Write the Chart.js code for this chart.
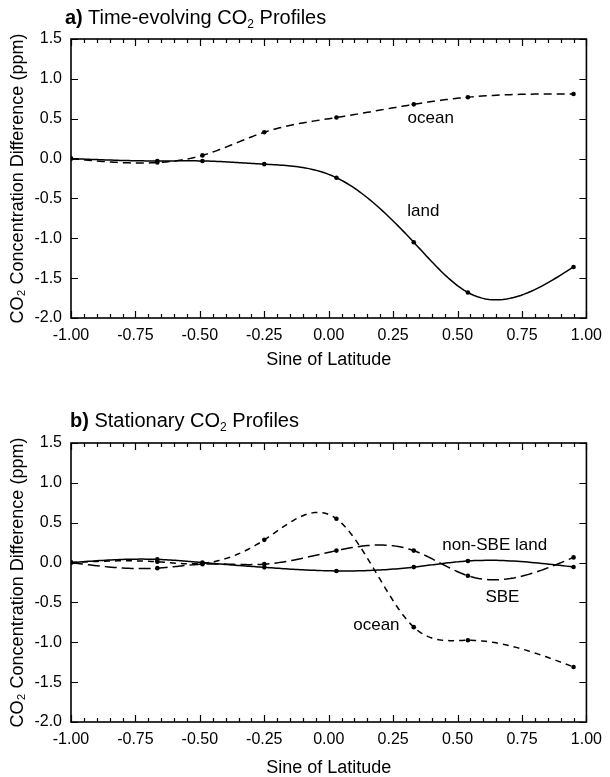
<!DOCTYPE html>
<html>
<head>
<meta charset="utf-8">
<title>CO2 latitudinal profiles</title>
<script src="https://cdn.jsdelivr.net/npm/chart.js@4.4.1/dist/chart.umd.min.js"></script>
<style>
  body { margin: 0; background: #fff; font-family: "Liberation Sans", Arial, sans-serif; }
  .panel { position: absolute; left: 0; width: 610px; }
  .title { position: absolute; font-size: 20px; line-height: 1; color: #000; white-space: nowrap; }
  .title sub { font-size: 12px; vertical-align: -4px; line-height: 1; }
</style>
</head>
<body>
<div class="panel" style="top:0;height:390px">
  <div class="title" style="left:65px;top:7px"><b>a)</b> Time-evolving CO<sub>2</sub> Profiles</div>
  <canvas id="chartA" width="610" height="390"></canvas>
</div>
<div class="panel" style="top:390px;height:387px">
  <div class="title" style="left:70px;top:20px"><b>b)</b> Stationary CO<sub>2</sub> Profiles</div>
  <canvas id="chartB" width="610" height="387"></canvas>
</div>
<script>
// station positions (sine of latitude)
const latitudes = [-1.0, -0.665, -0.49, -0.25, 0.03, 0.33, 0.54, 0.95];

// a) time-evolving profiles (ppm)
const timeOcean = [0.0, -0.05, 0.04, 0.33, 0.515, 0.68, 0.77, 0.81];
const timeLand  = [0.0, -0.03, -0.03, -0.07, -0.24, -1.05, -1.68, -1.36];

// b) stationary profiles (ppm)
const statOcean  = [0.0, 0.01, -0.01, 0.285, 0.55, -0.81, -0.975, -1.31];
const statSBE    = [0.0, -0.07, -0.02, -0.02, 0.15, 0.15, -0.165, 0.065];
const statNonSBE = [0.0, 0.04, 0.0, -0.06, -0.105, -0.057, 0.02, -0.055];

// axis ticks
const xTickValues = [-1.0, -0.75, -0.5, -0.25, 0.0, 0.25, 0.5, 0.75, 1.0];
const yTickValues = [-2.0, -1.5, -1.0, -0.5, 0.0, 0.5, 1.0, 1.5];
const xMinorPerMajor = 5;

const FONT = '"Liberation Sans", Arial, sans-serif';

// natural cubic spline through pixel points, sampled along each segment
function splinePath(ctx, pts) {
  const n = pts.length;
  const h = [], M = new Array(n).fill(0);
  for (let i = 0; i < n - 1; i++) h.push(pts[i + 1].x - pts[i].x);
  const a = [], b = [], c = [], d = [];
  for (let i = 1; i < n - 1; i++) {
    a.push(h[i - 1]);
    b.push(2 * (h[i - 1] + h[i]));
    c.push(h[i]);
    d.push(6 * ((pts[i + 1].y - pts[i].y) / h[i] - (pts[i].y - pts[i - 1].y) / h[i - 1]));
  }
  const m = b.length;
  for (let i = 1; i < m; i++) {
    const w = a[i] / b[i - 1];
    b[i] -= w * c[i - 1];
    d[i] -= w * d[i - 1];
  }
  for (let i = m - 1; i >= 0; i--) {
    M[i + 1] = (d[i] - (i < m - 1 ? c[i] * M[i + 2] : 0)) / b[i];
  }
  ctx.moveTo(pts[0].x, pts[0].y);
  for (let i = 0; i < n - 1; i++) {
    const hi = h[i];
    const k3 = (M[i + 1] - M[i]) / (6 * hi);
    const k2 = M[i] / 2;
    const k1 = (pts[i + 1].y - pts[i].y) / hi - hi * (2 * M[i] + M[i + 1]) / 6;
    const steps = 30;
    for (let s = 1; s <= steps; s++) {
      const t = hi * s / steps;
      ctx.lineTo(pts[i].x + t, pts[i].y + k1 * t + k2 * t * t + k3 * t * t * t);
    }
  }
}

const splineLines = {
  id: 'splineLines',
  beforeDatasetsDraw(chart) {
    const ctx = chart.ctx;
    chart.data.datasets.forEach((ds, i) => {
      const pts = chart.getDatasetMeta(i).data.map(p => ({ x: p.x, y: p.y }));
      ctx.save();
      ctx.beginPath();
      splinePath(ctx, pts);
      ctx.strokeStyle = '#000';
      ctx.lineWidth = ds.curveWidth;
      ctx.setLineDash(ds.curveDash);
      ctx.stroke();
      ctx.restore();
    });
  }
};

const frameTicks = {
  id: 'frameTicks',
  afterDatasetsDraw(chart) {
    const { ctx, chartArea: area, scales: { x, y } } = chart;
    ctx.save();
    ctx.strokeStyle = '#000';
    ctx.lineWidth = 1.6;
    ctx.strokeRect(area.left, area.top, area.right - area.left, area.bottom - area.top);
    ctx.lineWidth = 1.2;
    ctx.beginPath();
    for (let i = 0; i < xTickValues.length; i++) {
      const px = Math.round(x.getPixelForValue(xTickValues[i])) + 0.5;
      ctx.moveTo(px, area.bottom); ctx.lineTo(px, area.bottom - 7);
      ctx.moveTo(px, area.top); ctx.lineTo(px, area.top + 7);
      if (i < xTickValues.length - 1) {
        const step = (xTickValues[i + 1] - xTickValues[i]) / xMinorPerMajor;
        for (let k = 1; k < xMinorPerMajor; k++) {
          const mx = Math.round(x.getPixelForValue(xTickValues[i] + k * step)) + 0.5;
          ctx.moveTo(mx, area.bottom); ctx.lineTo(mx, area.bottom - 4);
          ctx.moveTo(mx, area.top); ctx.lineTo(mx, area.top + 4);
        }
      }
    }
    yTickValues.forEach(v => {
      const py = Math.round(y.getPixelForValue(v)) + 0.5;
      ctx.moveTo(area.left, py); ctx.lineTo(area.left + 7, py);
      ctx.moveTo(area.right, py); ctx.lineTo(area.right - 7, py);
    });
    ctx.stroke();
    ctx.restore();
  }
};

const curveLabels = {
  id: 'curveLabels',
  afterDatasetsDraw(chart, args, opts) {
    const { ctx, scales: { x, y } } = chart;
    ctx.save();
    ctx.fillStyle = '#000';
    ctx.font = '17px ' + FONT;
    ctx.textAlign = 'center';
    ctx.textBaseline = 'middle';
    (opts.items || []).forEach(l => {
      ctx.fillText(l.text, x.getPixelForValue(l.x), y.getPixelForValue(l.y));
    });
    ctx.restore();
  }
};

function series(values, dash) {
  return {
    data: latitudes.map((lat, i) => ({ x: lat, y: values[i] })),
    showLine: false,
    pointRadius: 2.3,
    pointBackgroundColor: '#000',
    pointBorderWidth: 0,
    curveDash: dash,
    curveWidth: 1.5
  };
}

function makeChart(id, datasets, labels, box) {
  return new Chart(document.getElementById(id), {
    type: 'scatter',
    data: { datasets },
    plugins: [splineLines, frameTicks, curveLabels],
    options: {
      responsive: false,
      animation: false,
      devicePixelRatio: 1,
      layout: { padding: { left: 0, top: box.top, right: 22, bottom: 0 } },
      plugins: {
        legend: { display: false },
        tooltip: { enabled: false },
        curveLabels: { items: labels }
      },
      scales: {
        x: {
          type: 'linear', min: -1, max: 1,
          grid: { display: false, drawTicks: false },
          border: { display: false },
          afterBuildTicks: s => { s.ticks = xTickValues.map(v => ({ value: v })); },
          afterFit: s => { s.height = box.xHeight; },
          ticks: {
            color: '#000', padding: 8, maxRotation: 0, autoSkip: false,
            font: { family: FONT, size: 16 },
            callback: v => v.toFixed(2)
          },
          title: {
            display: true, text: 'Sine of Latitude', color: '#000',
            font: { family: FONT, size: 18, lineHeight: 1 },
            padding: { top: 0, bottom: box.xTitlePad }
          }
        },
        y: {
          type: 'linear', min: -2, max: 1.5,
          grid: { display: false, drawTicks: false },
          border: { display: false },
          afterBuildTicks: s => { s.ticks = yTickValues.map(v => ({ value: v })); },
          afterFit: s => { s.width = 71; },
          ticks: {
            color: '#000', padding: 9,
            font: { family: FONT, size: 16 },
            callback: v => v.toFixed(1)
          },
          title: {
            display: true, text: 'CO\u2082 Concentration Difference (ppm)', color: '#000',
            font: { family: FONT, size: 18, lineHeight: 1 },
            padding: { top: 9, bottom: 0 }
          }
        }
      }
    }
  });
}

makeChart('chartA', [
  series(timeOcean, [8, 5]),
  series(timeLand, [])
], [
  { text: 'ocean', x: 0.396, y: 0.50 },
  { text: 'land', x: 0.367, y: -0.66 }
], { top: 39, xHeight: 72, xTitlePad: 21 });

makeChart('chartB', [
  series(statOcean, [6, 5]),
  series(statSBE, [12, 5]),
  series(statNonSBE, [])
], [
  { text: 'non-SBE land', x: 0.644, y: 0.22 },
  { text: 'SBE', x: 0.674, y: -0.43 },
  { text: 'ocean', x: 0.185, y: -0.79 }
], { top: 53, xHeight: 55, xTitlePad: 0 });
</script>
</body>
</html>
